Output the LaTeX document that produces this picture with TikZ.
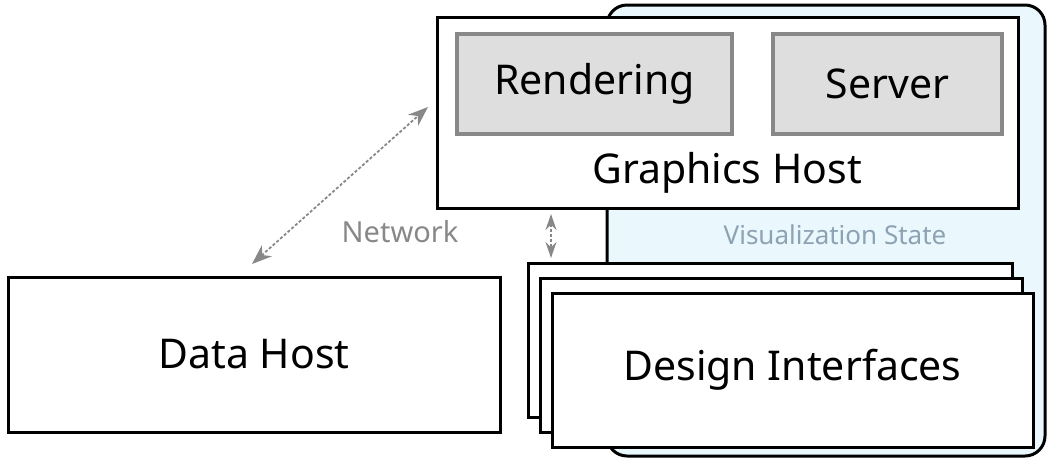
\documentclass[tikz,border=0pt]{standalone}
\usepackage{fontspec}
\setmainfont{Noto Sans}
\usetikzlibrary{arrows.meta}

\definecolor{statefill}{HTML}{EAF8FE}
\definecolor{stategray}{HTML}{8DA2B2}
\definecolor{linkgray}{HTML}{888888}
\definecolor{partfill}{HTML}{DEDEDE}

\tikzset{
  host/.style={draw, line width=3pt, fill=white, inner sep=0pt},
  part/.style={draw=linkgray, line width=4pt, fill=partfill, inner sep=0pt},
  big/.style={font=\fontsize{41}{48}\selectfont},
  link/.style={linkgray, dash pattern=on 3pt off 2pt, line width=1.8pt,
    {Stealth[length=20pt,width=15pt]}-{Stealth[length=20pt,width=15pt]}}
}

\begin{document}
\begin{tikzpicture}[x=1pt, y=-1pt]
  \useasboundingbox (0,0) rectangle (1050,459);
  % shared state behind the graphics side
  \node[draw, line width=3pt, fill=statefill, rounded corners=20pt,
    minimum width=438pt, minimum height=451pt] (state) at (826,230.5) {};
  \node[text=stategray, font=\fontsize{26}{30}\selectfont] (statename) at (835,235) {Visualization State};
  % graphics host with its two parts
  \node[host, minimum width=581pt, minimum height=191pt] (gfx) at (727.5,112.5) {};
  \node[part, big, minimum width=275pt, minimum height=100pt] (render) at (594.5,84) {Rendering};
  \node[part, big, minimum width=229pt, minimum height=100pt] (server) at (887.5,84) {Server};
  \node[big] (gfxname) at (727,173) {Graphics Host};
  % data host
  \node[host, big, minimum width=492pt, minimum height=155pt] (data) at (254,354.5) {Data Host};
  % stack of design interfaces
  \node[host, minimum width=484pt, minimum height=154pt] (ui1) at (770,340) {};
  \node[host, minimum width=482pt, minimum height=154pt] (ui2) at (781,355) {};
  \node[host, big, minimum width=481pt, minimum height=154pt] (ui3) at (792.5,370) {Design Interfaces};
  % connections
  \coordinate (netA) at (252,264);
  \coordinate (netB) at (428,107);
  \draw[link] (netA) -- (netB);
  \node[text=linkgray, font=\fontsize{29}{34}\selectfont] (netname) at (400,232) {Network};
  \coordinate (uiA) at (551,214);
  \coordinate (uiB) at (551,258);
  \draw[link, {Stealth[length=16pt,width=11pt]}-{Stealth[length=16pt,width=11pt]}] (uiA) -- (uiB);
\end{tikzpicture}
\end{document}
